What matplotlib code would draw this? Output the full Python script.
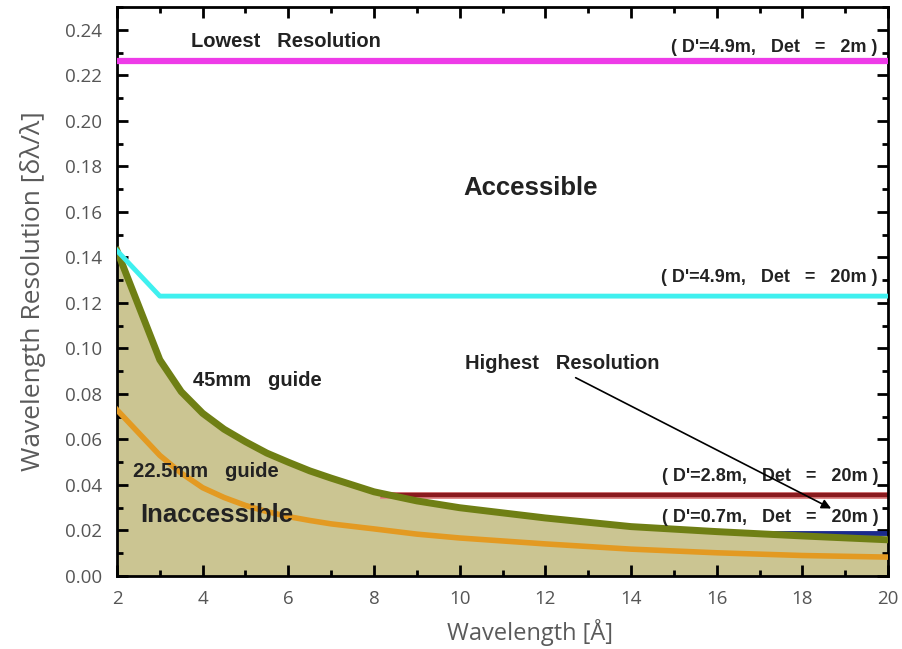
import matplotlib
matplotlib.use("Agg")
import matplotlib.pyplot as plt
from matplotlib.ticker import MultipleLocator

plt.rcParams['font.family'] = ['Liberation Sans', 'DejaVu Sans']

# Data
wl = [2, 3, 3.5, 4, 4.5, 5, 5.5, 6, 6.5, 7, 7.5, 8, 9, 10, 12, 14, 16, 18, 20]
guide45 = [0.143, 0.095, 0.081, 0.0715, 0.0645, 0.0590, 0.0540, 0.050, 0.0462, 0.043, 0.040, 0.037,
           0.033, 0.030, 0.0255, 0.0217, 0.0195, 0.0176, 0.0159]
guide22 = [0.073, 0.053, 0.0452, 0.0388, 0.0345, 0.031, 0.0283, 0.0261, 0.0244, 0.0229, 0.0218, 0.0207,
           0.0184, 0.0167, 0.0141, 0.0118, 0.0102, 0.0090, 0.0083]

lowest_x = [2, 20]
lowest_y = [0.2265, 0.2265]
det20_x = [2, 3, 20]
det20_y = [0.143, 0.123, 0.123]
d28_x = [8.2, 20]
d28_y = [0.0355, 0.0355]
d07_x = [16.5, 20]
d07_y = [0.019, 0.019]

yticks = [0.0, 0.02, 0.04, 0.06, 0.08, 0.10, 0.12, 0.14, 0.16, 0.18, 0.20, 0.22, 0.24]
ytick_labels = ['0.00', '0.02', '0.04', '0.06', '0.08', '0.10', '0.12', '0.14', '0.16', '0.18', '0.20', '0.22', '0.24']

fig = plt.figure(figsize=(9.02, 6.49), dpi=100)
ax = fig.add_axes([0.1297, 0.1125, 0.8548, 0.8765])

ax.fill_between(wl, 0, guide45, color='#cbc592', zorder=1)
ax.plot(wl, guide45, color='#6f7f14', lw=5, zorder=3)
ax.plot(wl, guide22, color='#e39a22', lw=4, zorder=3)
ax.plot(lowest_x, lowest_y, color='#ee3be8', lw=4.5, zorder=3)
ax.plot(det20_x, det20_y, color='#3ff0ef', lw=3.5, zorder=3)
ax.plot(d28_x, d28_y, color='#e08a8a', lw=5, zorder=2)
ax.plot(d28_x, d28_y, color='#8a1a1e', lw=3.2, zorder=2)
ax.plot(d07_x, d07_y, color='#1a2a8c', lw=3.5, zorder=2)

ax.set_xlim(2, 20)
ax.set_ylim(0, 0.25)
ax.xaxis.set_major_locator(MultipleLocator(2))
ax.xaxis.set_minor_locator(MultipleLocator(1))
ax.set_yticks(yticks)
ax.set_yticklabels(ytick_labels)
ax.yaxis.set_minor_locator(MultipleLocator(0.01))
ax.tick_params(which='both', direction='in', top=True, right=True, width=2, colors='black',
               labelcolor='#555555', labelsize=13.5)
ax.tick_params(which='major', length=8)
ax.tick_params(which='minor', length=4)
ax.tick_params(axis='x', pad=10)
ax.tick_params(axis='y', pad=11)
for lab in ax.get_xticklabels() + ax.get_yticklabels():
    lab.set_family(['Open Sans', 'DejaVu Sans'])
for s in ax.spines.values():
    s.set_linewidth(2)

ax.set_xlabel('Wavelength [Å]', fontsize=17, color='#5a5a5a', family=['Open Sans', 'DejaVu Sans'],
              va='center')
ax.set_ylabel('Wavelength Resolution [δλ/λ]', fontsize=19, color='#5a5a5a',
              family=['Open Sans', 'DejaVu Sans'], va='center')
ax.xaxis.set_label_coords(0.536, -0.100)
ax.yaxis.set_label_coords(-0.109, 0.5)

tk = dict(fontweight='bold', color='#222222', zorder=5, va='baseline')
ax.text(3.72, 0.2326, 'Lowest   Resolution', fontsize=14.5, ha='left', **tk)
ax.text(19.76, 0.2304, "( D'=4.9m,   Det   =   2m )", fontsize=13, ha='right', **tk)
ax.text(11.65, 0.1674, 'Accessible', fontsize=18.5, ha='center', **tk)
ax.text(19.76, 0.1292, "( D'=4.9m,   Det   =   20m )", fontsize=13, ha='right', **tk)
ax.text(10.13, 0.0911, 'Highest   Resolution', fontsize=14.5, ha='left', **tk)
ax.text(19.78, 0.0416, "( D'=2.8m,   Det   =   20m )", fontsize=13, ha='right', **tk)
ax.text(19.78, 0.0239, "( D'=0.7m,   Det   =   20m )", fontsize=13, ha='right', **tk)
ax.text(3.78, 0.0834, '45mm   guide', fontsize=14.5, ha='left', **tk)
ax.text(2.37, 0.0437, '22.5mm   guide', fontsize=14.5, ha='left', **tk)
ax.text(2.54, 0.0239, 'Inaccessible', fontsize=18.5, ha='left', **tk)

ax.annotate('', xy=(18.73, 0.0291), xytext=(12.65, 0.0877),
            arrowprops=dict(arrowstyle='-|>', color='black', lw=1.2, mutation_scale=14), zorder=6)

fig.savefig('out.png', dpi=100)
